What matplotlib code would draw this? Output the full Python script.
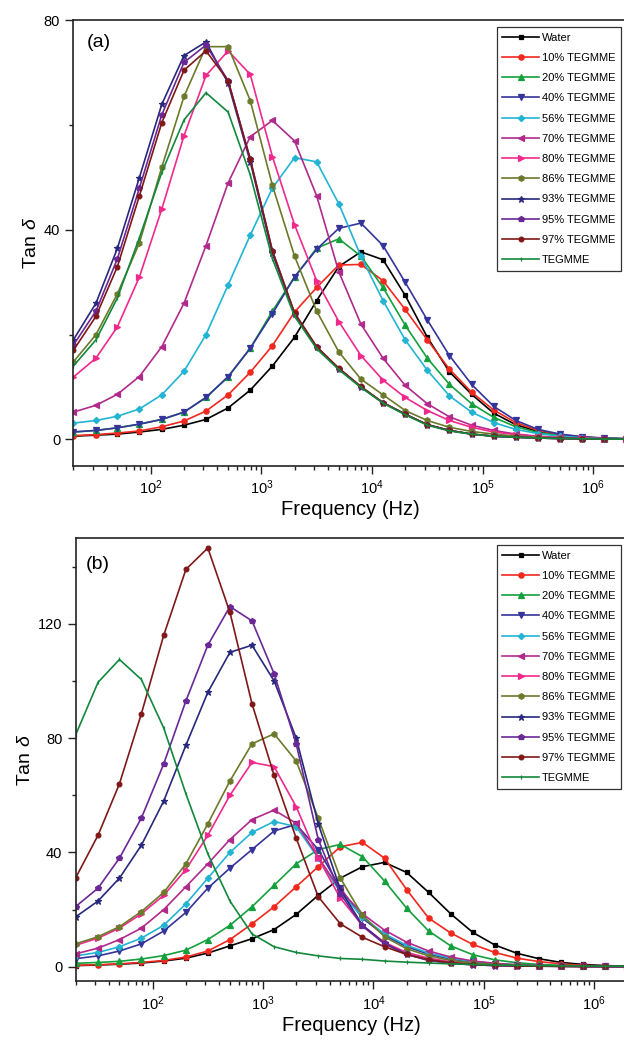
import matplotlib
matplotlib.use('Agg')
import matplotlib.pyplot as plt
from matplotlib.ticker import LogLocator, MultipleLocator, NullFormatter

plt.rcParams['font.family'] = ['Liberation Sans', 'DejaVu Sans']
plt.rcParams['mathtext.fontset'] = 'custom'
plt.rcParams['mathtext.rm'] = 'Liberation Sans'
plt.rcParams['mathtext.it'] = 'Liberation Sans:italic'
plt.rcParams['mathtext.default'] = 'regular'

# measurement frequencies (Hz), 5 points per decade
freq = [20, 32, 50, 79, 126, 200, 316, 501, 794, 1259, 1995, 3162, 5012, 7943,
        12589, 19953, 31623, 50119, 79433, 125893, 199526, 316228, 501187,
        794328, 1258925, 1995262]

labels = ['Water', '10% TEGMME', '20% TEGMME', '40% TEGMME', '56% TEGMME',
          '70% TEGMME', '80% TEGMME', '86% TEGMME', '93% TEGMME',
          '95% TEGMME', '97% TEGMME', 'TEGMME']

# panel (a)
water_a = [0.6, 0.8, 1.0, 1.4, 1.9, 2.7, 3.8, 6.0, 9.4, 14.0, 19.5, 26.5, 33.0, 35.8, 34.3, 27.5, 19.5, 12.9, 8.6, 5.0, 2.8, 1.5, 0.8, 0.4, 0.2, 0.1]
teg10_a = [0.7, 0.9, 1.2, 1.6, 2.4, 3.5, 5.4, 8.5, 12.8, 17.9, 24.3, 29.0, 33.3, 33.4, 30.3, 24.8, 19.0, 13.4, 9.0, 5.6, 3.2, 1.7, 0.9, 0.45, 0.2, 0.1]
teg20_a = [1.4, 1.7, 2.2, 2.9, 3.8, 5.2, 8.0, 11.9, 17.4, 24.5, 31.0, 36.5, 38.3, 35.0, 29.0, 21.8, 15.5, 10.5, 6.8, 4.2, 2.4, 1.3, 0.7, 0.35, 0.2, 0.1]
teg40_a = [1.4, 1.7, 2.2, 2.9, 3.8, 5.2, 8.0, 12.0, 17.4, 24.0, 31.0, 36.3, 40.3, 41.3, 37.0, 30.0, 22.8, 16.0, 10.5, 6.3, 3.6, 1.9, 1.0, 0.5, 0.25, 0.1]
teg56_a = [3.1, 3.6, 4.4, 5.8, 8.5, 13.0, 20.0, 29.5, 39.0, 48.0, 53.8, 53.0, 45.0, 35.0, 26.5, 19.0, 13.2, 8.3, 5.2, 3.2, 1.9, 1.1, 0.6, 0.3, 0.15, 0.1]
teg70_a = [5.2, 6.5, 8.6, 12.0, 17.7, 26.0, 37.0, 49.0, 57.8, 60.9, 57.0, 46.5, 32.0, 22.0, 15.5, 10.3, 6.8, 4.3, 2.7, 1.7, 1.0, 0.6, 0.35, 0.2, 0.1, 0.05]
teg80_a = [11.9, 15.5, 21.5, 31.0, 44.0, 58.0, 69.5, 74.2, 69.7, 54.0, 41.0, 30.3, 22.5, 16.0, 11.3, 8.0, 5.5, 3.6, 2.3, 1.4, 0.9, 0.5, 0.3, 0.2, 0.1, 0.05]
teg86_a = [14.8, 20.0, 27.8, 37.5, 52.0, 65.5, 75.0, 75.0, 64.7, 48.5, 35.0, 24.5, 16.7, 11.5, 8.5, 5.5, 3.6, 2.3, 1.5, 1.0, 0.6, 0.4, 0.25, 0.15, 0.1, 0.05]
teg93_a = [19.0, 26.0, 36.5, 50.0, 64.0, 73.3, 75.9, 68.0, 53.0, 35.5, 24.0, 17.6, 13.5, 10.0, 7.0, 4.8, 2.8, 1.7, 1.0, 0.6, 0.4, 0.25, 0.15, 0.1, 0.05, 0.03]
teg95_a = [18.0, 24.5, 34.5, 48.0, 62.0, 72.0, 75.3, 68.5, 53.5, 36.0, 24.0, 17.6, 13.5, 10.0, 7.0, 4.8, 2.8, 1.7, 1.0, 0.6, 0.4, 0.25, 0.15, 0.1, 0.05, 0.03]
teg97_a = [17.0, 23.5, 33.0, 46.5, 60.5, 70.5, 74.2, 68.5, 53.5, 36.0, 24.2, 17.7, 13.6, 10.1, 7.0, 4.8, 2.8, 1.7, 1.0, 0.6, 0.4, 0.25, 0.15, 0.1, 0.05, 0.03]
tegmme_a = [14.0, 19.0, 27.0, 38.5, 51.0, 61.0, 66.2, 62.5, 50.5, 34.5, 23.5, 17.3, 13.3, 9.9, 6.9, 4.7, 2.7, 1.6, 1.0, 0.6, 0.4, 0.25, 0.15, 0.1, 0.05, 0.03]

# panel (b)
water_b = [0.4, 0.6, 0.9, 1.3, 2.0, 3.0, 4.8, 7.3, 9.8, 13.0, 18.3, 25.0, 31.0, 35.0, 36.5, 33.0, 26.0, 18.5, 12.0, 7.6, 4.7, 2.8, 1.5, 0.8, 0.4, 0.2]
teg10_b = [0.5, 0.7, 1.0, 1.5, 2.2, 3.4, 5.5, 9.5, 15.0, 21.0, 28.0, 35.0, 42.0, 43.5, 38.0, 27.0, 17.0, 11.8, 7.8, 5.0, 3.0, 1.8, 1.0, 0.5, 0.3, 0.2]
teg20_b = [1.2, 1.5, 1.9, 2.7, 3.9, 5.8, 9.5, 14.5, 21.0, 28.5, 36.0, 41.0, 42.8, 38.5, 30.0, 20.5, 12.5, 7.3, 4.2, 2.4, 1.4, 0.8, 0.5, 0.3, 0.2, 0.1]
teg40_b = [2.8, 3.8, 5.5, 8.0, 12.5, 19.0, 27.5, 34.5, 41.0, 47.5, 49.8, 41.0, 27.5, 17.0, 11.0, 7.0, 4.4, 2.7, 1.6, 1.0, 0.6, 0.35, 0.2, 0.15, 0.1, 0.1]
teg56_b = [3.8, 5.0, 7.0, 10.0, 14.5, 22.0, 31.0, 40.0, 47.0, 50.8, 49.0, 38.0, 26.0, 17.5, 11.5, 7.5, 4.8, 3.0, 1.8, 1.1, 0.65, 0.4, 0.25, 0.15, 0.1, 0.1]
teg70_b = [4.5, 6.5, 9.5, 13.5, 20.0, 28.0, 36.0, 44.5, 51.5, 54.8, 50.2, 38.3, 26.8, 18.5, 12.8, 8.6, 5.5, 3.4, 2.0, 1.2, 0.7, 0.4, 0.25, 0.15, 0.1, 0.1]
teg80_b = [7.5, 10.0, 13.5, 18.5, 25.0, 34.0, 46.0, 60.0, 71.5, 70.0, 56.0, 38.0, 24.0, 14.5, 8.5, 5.0, 3.0, 1.7, 1.0, 0.6, 0.4, 0.25, 0.15, 0.1, 0.1, 0.05]
teg86_b = [8.0, 10.5, 14.0, 19.3, 26.0, 36.0, 50.0, 65.0, 78.0, 81.5, 72.0, 52.0, 31.0, 18.0, 10.5, 6.3, 3.8, 2.2, 1.3, 0.8, 0.5, 0.3, 0.2, 0.15, 0.1, 0.1]
teg93_b = [17.4, 23.0, 31.0, 42.5, 58.0, 77.5, 96.0, 110.0, 112.5, 100.0, 80.0, 50.0, 27.0, 14.5, 8.2, 4.4, 2.3, 1.2, 0.7, 0.4, 0.3, 0.2, 0.15, 0.1, 0.1, 0.1]
teg95_b = [21.0, 27.5, 38.0, 52.0, 71.0, 93.0, 112.5, 126.0, 121.0, 102.5, 78.0, 44.5, 25.6, 14.2, 8.0, 4.3, 2.2, 1.2, 0.7, 0.4, 0.3, 0.2, 0.15, 0.1, 0.1, 0.1]
teg97_b = [31.0, 46.0, 64.0, 88.5, 116.0, 139.0, 146.5, 124.0, 92.0, 67.0, 45.0, 24.5, 15.0, 10.3, 7.0, 4.3, 2.5, 1.4, 0.8, 0.5, 0.3, 0.2, 0.15, 0.1, 0.1, 0.1]
tegmme_b = [81.0, 99.5, 107.5, 100.5, 83.5, 60.5, 39.5, 23.0, 11.5, 7.0, 5.0, 3.8, 2.9, 2.6, 2.0, 1.6, 1.3, 1.0, 0.8, 0.6, 0.5, 0.4, 0.3, 0.25, 0.2, 0.2]

series_a = [water_a, teg10_a, teg20_a, teg40_a, teg56_a, teg70_a, teg80_a,
            teg86_a, teg93_a, teg95_a, teg97_a, tegmme_a]
series_b = [water_b, teg10_b, teg20_b, teg40_b, teg56_b, teg70_b, teg80_b,
            teg86_b, teg93_b, teg95_b, teg97_b, tegmme_b]

colors = ['#000000', '#f0281e', '#14a03c', '#34349a', '#22b4d2', '#b02a8c',
          '#f02a8c', '#6b7a2a', '#28287c', '#6a2896', '#801818', '#12883c']
markers = ['s', 'o', '^', 'v', 'D', '<', '>', 'h', '*', 'p', 'o', '|']
msizes = [3.4, 3.8, 4.0, 4.0, 3.2, 4.0, 4.0, 4.0, 4.6, 4.0, 3.4, 3.2]


def draw_panel(ax, series, ymax, ymajor, tag, tag_xy, leg_anchor):
    for vals, lbl, c, m, s in zip(series, labels, colors, markers, msizes):
        ax.plot(freq, vals, color=c, marker=m, markersize=s, mfc=c, mec=c,
                mew=0.9, lw=1.2, label=lbl)
    ax.set_xscale('log')
    ax.set_xlim(20, 2e6)
    ax.set_ylim(-5, ymax)
    ax.xaxis.set_major_locator(LogLocator(base=10))
    ax.xaxis.set_minor_locator(LogLocator(base=10, subs=range(2, 10)))
    ax.xaxis.set_minor_formatter(NullFormatter())
    ax.yaxis.set_major_locator(MultipleLocator(ymajor))
    ax.yaxis.set_minor_locator(MultipleLocator(ymajor / 2))
    ax.tick_params(which='both', direction='out', top=False, right=False,
                   labelsize=10.5, width=1.0, color='#222222')
    ax.tick_params(which='major', length=6)
    ax.tick_params(which='minor', length=3)
    for sp in ax.spines.values():
        sp.set_linewidth(1.2)
        sp.set_color('#222222')
    ax.set_xlabel('Frequency (Hz)', fontsize=14.5, labelpad=2)
    ax.set_ylabel(r'Tan $\mathit{\delta}$', fontsize=14, labelpad=3)
    ax.text(tag_xy[0], tag_xy[1], tag, transform=ax.transAxes,
            ha='left', va='center', fontsize=14)
    leg = ax.legend(loc='upper right', bbox_to_anchor=leg_anchor,
                    borderaxespad=0, fontsize=8, frameon=True, fancybox=False,
                    edgecolor='#333333', framealpha=1, borderpad=0.5,
                    labelspacing=0.92, handlelength=3.3, handletextpad=0.25,
                    numpoints=1)
    leg.get_frame().set_linewidth(0.9)


fig = plt.figure(figsize=(6.24, 10.4), dpi=100)
ax_a = fig.add_axes([0.1176, 0.5524, 0.8865, 0.4279])
ax_b = fig.add_axes([0.1210, 0.0567, 0.8846, 0.4260])

draw_panel(ax_a, series_a, 80, 40, '(a)', (0.024, 0.95), (0.990, 0.985))
draw_panel(ax_b, series_b, 150, 40, '(b)', (0.019, 0.941), (0.988, 0.984))

fig.savefig('out.png', dpi=100)
